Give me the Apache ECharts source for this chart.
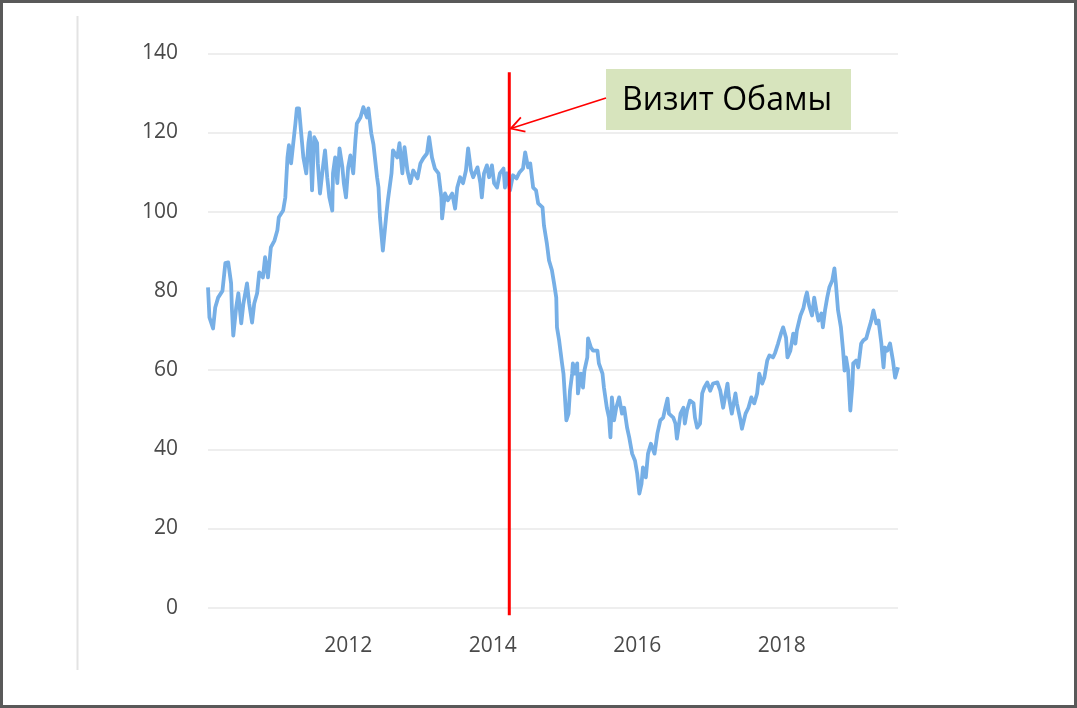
<!DOCTYPE html>
<html>
<head>
<meta charset="utf-8">
<script src="https://cdn.jsdelivr.net/npm/echarts@6/dist/echarts.min.js"></script>
<style>
html,body{margin:0;padding:0;background:#fff;}
#chart{width:1077px;height:708px;}
</style>
</head>
<body>
<div id="chart"></div>
<script>
// Decimal-year dates of each reading
const years = [
2010.06,2010.08,2010.13,2010.16,2010.20,2010.26,2010.30,2010.34,2010.38,2010.39,2010.41,2010.45,2010.48,2010.52,2010.55,2010.60,2010.63,2010.67,2010.70,2010.74,2010.77,2010.82,2010.85,2010.89,2010.93,2010.98,
2011.02,2011.04,2011.10,2011.13,2011.16,2011.18,2011.21,2011.24,2011.27,2011.29,2011.32,2011.35,2011.38,2011.42,2011.45,2011.47,2011.50,2011.53,2011.57,2011.58,2011.61,2011.65,2011.68,2011.71,2011.74,2011.78,2011.79,2011.82,2011.85,2011.88,2011.92,2011.94,2011.97,
2012.00,2012.03,2012.07,2012.10,2012.12,2012.17,2012.21,2012.26,2012.28,2012.32,2012.35,2012.37,2012.40,2012.42,2012.44,2012.48,2012.53,2012.55,2012.60,2012.62,2012.68,2012.71,2012.75,2012.78,2012.82,2012.86,2012.90,2012.96,
2013.00,2013.04,2013.09,2013.12,2013.16,2013.20,2013.25,2013.29,2013.30,2013.34,2013.38,2013.44,2013.48,2013.51,2013.55,2013.59,2013.63,2013.66,2013.70,2013.73,2013.79,2013.83,2013.85,2013.88,2013.92,2013.95,2013.99,
2014.02,2014.06,2014.10,2014.15,2014.17,2014.20,2014.24,2014.28,2014.33,2014.37,2014.42,2014.45,2014.49,2014.52,2014.56,2014.60,2014.63,2014.69,2014.71,2014.75,2014.78,2014.82,2014.85,2014.88,2014.89,2014.92,2014.96,2014.98,
2015.02,2015.05,2015.07,2015.10,2015.11,2015.14,2015.17,2015.18,2015.22,2015.25,2015.27,2015.31,2015.32,2015.36,2015.39,2015.45,2015.47,2015.52,2015.54,2015.58,2015.61,2015.63,2015.65,2015.68,2015.71,2015.75,2015.79,2015.82,2015.86,2015.89,2015.93,2015.97,
2016.00,2016.03,2016.06,2016.08,2016.12,2016.15,2016.19,2016.24,2016.28,2016.32,2016.36,2016.39,2016.42,2016.44,2016.50,2016.53,2016.55,2016.60,2016.64,2016.66,2016.69,2016.73,2016.78,2016.80,2016.83,2016.87,2016.90,2016.93,2016.97,
2017.01,2017.05,2017.11,2017.15,2017.19,2017.25,2017.27,2017.31,2017.36,2017.38,2017.43,2017.45,2017.50,2017.54,2017.58,2017.62,2017.66,2017.69,2017.73,2017.76,2017.80,2017.83,2017.88,2017.91,2017.95,2017.99,
2018.02,2018.06,2018.08,2018.12,2018.16,2018.19,2018.21,2018.26,2018.30,2018.33,2018.35,2018.38,2018.42,2018.45,2018.48,2018.51,2018.55,2018.57,2018.60,2018.63,2018.66,2018.70,2018.73,2018.75,2018.78,2018.82,2018.85,2018.87,2018.89,2018.92,2018.95,2018.98,2018.99,
2019.03,2019.06,2019.10,2019.13,2019.17,2019.20,2019.24,2019.27,2019.31,2019.34,2019.38,2019.41,2019.43,2019.46,2019.50,2019.54,2019.57,2019.61
];
// Price readings (USD per barrel)
const prices = [
80.9,73.3,70.5,75.8,78.3,80.0,87.0,87.2,81.9,75.8,68.7,75.8,79.4,71.8,76.8,81.9,76.8,72.0,76.8,79.4,84.7,83.4,88.5,83.4,91.0,92.7,
95.3,98.6,100.3,103.6,113.7,116.8,112.2,117.3,122.3,126.1,126.1,119.8,113.7,109.7,117.3,120.0,105.4,118.8,117.3,112.2,104.6,111.2,115.5,108.7,103.6,100.3,109.7,113.7,107.2,116.0,111.2,107.2,103.6,
111.2,114.2,109.7,118.0,122.3,123.8,126.4,123.8,126.1,119.8,117.0,113.7,108.7,106.1,98.6,90.2,99.6,102.9,109.7,115.5,113.7,117.3,109.7,116.3,110.4,107.2,110.4,108.4,
112.2,113.5,114.7,118.8,113.7,110.9,109.7,103.6,98.3,104.6,102.9,104.6,100.8,106.1,108.7,107.2,110.4,116.0,110.4,108.7,111.2,107.2,103.6,109.7,111.7,108.7,111.7,
107.2,106.1,109.7,110.9,106.1,109.7,105.4,109.2,108.4,109.9,110.9,115.0,111.2,112.2,106.1,105.4,102.1,101.1,96.5,92.0,87.7,85.2,81.9,78.3,70.8,67.5,61.7,59.1,
47.3,49.0,54.8,59.1,61.7,59.1,61.7,54.1,59.1,55.6,59.9,63.2,68.0,65.7,64.9,64.9,61.7,59.1,55.6,50.5,48.0,43.0,53.1,47.3,50.5,53.1,49.0,50.5,45.5,43.0,38.9,37.1,
33.9,28.8,31.3,35.4,32.9,38.9,41.4,38.9,44.0,47.3,48.0,50.5,52.8,49.0,48.0,46.5,42.7,49.0,50.5,46.5,49.8,52.3,51.6,48.0,45.5,46.5,54.1,55.6,56.9,
54.8,56.6,56.9,54.8,50.5,56.6,53.1,49.0,54.1,51.6,47.3,45.2,49.0,50.5,53.1,51.6,54.1,59.1,56.6,58.1,62.4,63.7,63.2,64.4,66.7,69.2,
70.8,68.2,63.2,64.9,69.2,66.7,70.0,73.8,75.6,78.3,79.6,76.3,73.8,78.3,75.1,72.5,74.3,70.8,75.1,78.3,80.9,82.6,85.7,81.9,75.1,70.8,64.9,59.9,63.2,59.9,49.8,56.6,61.7,
62.4,60.7,66.7,67.5,68.0,70.0,72.5,75.1,71.8,72.5,66.7,60.7,65.7,64.9,66.7,62.4,58.1,60.7
];
const yTicks = [0, 20, 40, 60, 80, 100, 120, 140];
const xLabelYears = [2012, 2014, 2016, 2018];
const annotationText = 'Визит Обамы';
const obamaVisit = 2014.23;      // date of the marked event
const markerTop = 135.2;          // value where the red marker line starts
const markerBottom = -1.9;        // value where it ends (slightly below 0)
const arrowValue = 121;           // value the arrow points at

const chart = echarts.init(document.getElementById('chart'), null, {renderer: 'canvas'});
const labelFont = {color: '#4a4a4a', fontFamily: 'Open Sans', fontSize: 21};

const option = {
  animation: false,
  backgroundColor: '#ffffff',
  grid: {left: 208, right: 179, top: 53.3, bottom: 100.3, containLabel: false},
  xAxis: {
    type: 'value',
    min: years[0],
    max: years[years.length - 1],
    axisLine: {show: false},
    axisTick: {show: false},
    splitLine: {show: false},
    axisLabel: Object.assign({}, labelFont, {
      margin: 28,
      showMinLabel: false,
      showMaxLabel: false,
      formatter: function (v) {
        const r = Math.round(v);
        return (Math.abs(v - r) < 1e-6 && xLabelYears.indexOf(r) >= 0) ? String(r) : '';
      }
    })
  },
  yAxis: {
    type: 'value',
    min: yTicks[0],
    max: yTicks[yTicks.length - 1],
    interval: yTicks[1] - yTicks[0],
    axisLine: {show: false},
    axisTick: {show: false},
    splitLine: {lineStyle: {color: '#e8e8e8', width: 1.5}},
    axisLabel: Object.assign({}, labelFont, {margin: 30})
  },
  series: [{
    type: 'line',
    data: years.map((t, i) => [t, prices[i]]),
    showSymbol: false,
    symbol: 'none',
    lineStyle: {color: '#76afe6', width: 3.8, join: 'round'},
    clip: true,
    z: 3
  }]
};
chart.setOption(option);

function drawOverlay() {
  const top = chart.convertToPixel({gridIndex: 0}, [obamaVisit, markerTop]);
  const bottom = chart.convertToPixel({gridIndex: 0}, [obamaVisit, markerBottom]);
  const tip = chart.convertToPixel({gridIndex: 0}, [obamaVisit, arrowValue]);
  const tipX = tip[0] + 1.5, tipY = tip[1];
  const box = {x: 606, y: 69, width: 245, height: 61};
  const tail = [box.x, box.y + 29];
  const ang = Math.atan2(tail[1] - tipY, tail[0] - tipX);
  const headLen = 15, headAng = Math.PI / 6;
  const h1 = [tipX + headLen * Math.cos(ang - headAng), tipY + headLen * Math.sin(ang - headAng)];
  const h2 = [tipX + headLen * Math.cos(ang + headAng), tipY + headLen * Math.sin(ang + headAng)];
  chart.setOption({
    graphic: [
      {type: 'rect', silent: true, z: 0, shape: {x: 1.5, y: 1.5, width: 1074, height: 705},
        style: {fill: 'none', stroke: '#595959', lineWidth: 3}},
      {type: 'line', silent: true, shape: {x1: 77.5, y1: 16, x2: 77.5, y2: 670},
        style: {stroke: '#e3e3e3', lineWidth: 2}},
      {type: 'line', silent: true, z: 10, shape: {x1: top[0], y1: top[1], x2: bottom[0], y2: bottom[1]},
        style: {stroke: '#ff0000', lineWidth: 3}},
      {type: 'rect', silent: true, z: 10, shape: box, style: {fill: '#d7e4bd'}},
      {type: 'text', silent: true, z: 11, x: box.x + 16, y: box.y + box.height / 2 + 1,
        style: {text: annotationText, fill: '#000000', font: '32px "Open Sans"', verticalAlign: 'middle', align: 'left'}},
      {type: 'line', silent: true, z: 10, shape: {x1: tail[0], y1: tail[1], x2: tipX, y2: tipY},
        style: {stroke: '#ff0000', lineWidth: 1.75}},
      {type: 'polyline', silent: true, z: 10, shape: {points: [h1, [tipX, tipY], h2]},
        style: {stroke: '#ff0000', lineWidth: 1.75, fill: 'none'}}
    ]
  });
}
drawOverlay();
</script>
</body>
</html>
